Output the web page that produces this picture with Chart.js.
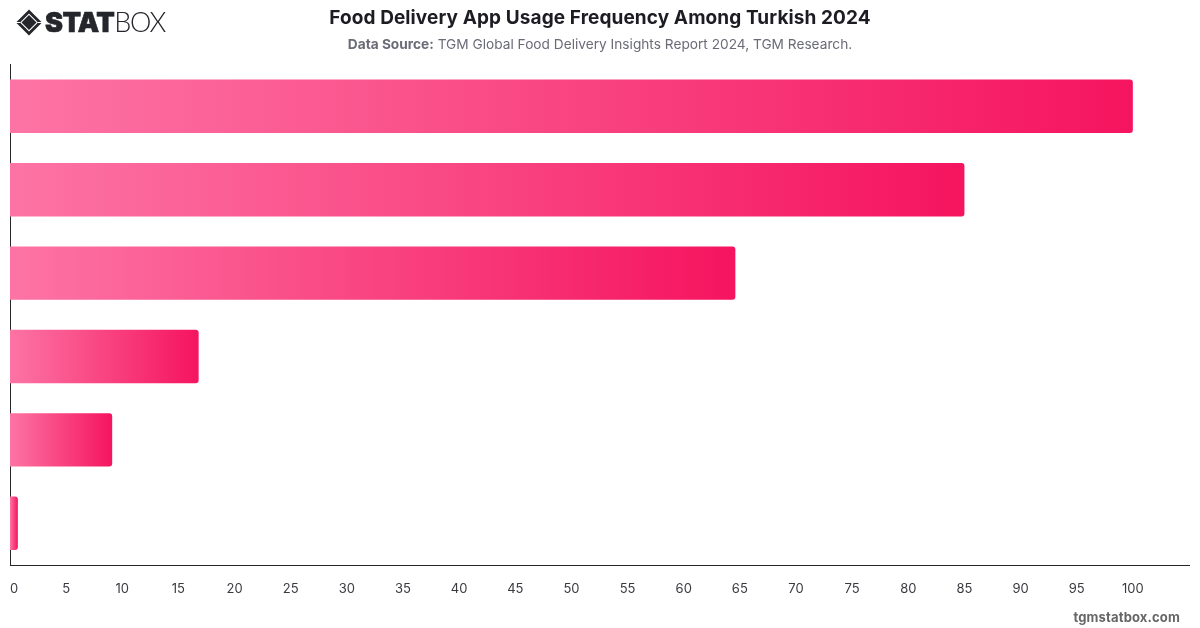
<!DOCTYPE html>
<html>
<head>
<meta charset="utf-8">
<title>Food Delivery App Usage Frequency Among Turkish 2024</title>
<script src="https://cdn.jsdelivr.net/npm/chart.js@4"></script>
<style>
    html, body { margin: 0; padding: 0; background: #fff; }
    #wrap { position: relative; width: 1200px; height: 628px; overflow: hidden; font-family: Inter, sans-serif; }
    #usageChart { position: absolute; left: 0; top: 0; }
    #title { position: absolute; left: 0; width: 1200px; top: 5px; text-align: center; font-size: 19px; line-height: 25px; font-weight: 700; letter-spacing: 0.1px; color: #1c1c22; }
    #source { position: absolute; left: 0; width: 1200px; top: 35px; text-align: center; font-size: 13.7px; line-height: 18px; color: #6b6b78; }
    #source b { font-weight: 700; }
    #logo { position: absolute; left: 15px; top: 8px; }
    #brand { position: absolute; left: 45px; top: 4px; font-size: 27px; line-height: 36px; color: #24262b; white-space: nowrap; }
    #brand b { font-weight: 900; letter-spacing: -0.6px; -webkit-text-stroke: 0.6px #24262b; }
    #brand span { font-family: Lato, sans-serif; font-weight: 300; font-size: 27px; letter-spacing: -1.2px; }
    #site { position: absolute; right: 20px; top: 609px; font-size: 13px; line-height: 16px; font-weight: 700; color: #666; letter-spacing: 0.15px; }
</style>
</head>
<body>
<div id="wrap">
    <canvas id="usageChart" width="1200" height="628"></canvas>
    <svg id="logo" width="28" height="30" viewBox="0 0 28 30">
        <path d="M14 1.5 L27 14.5 L14 27.5 L1 14.5 Z M14 5.5 L5 14.5 L14 23.5 L23 14.5 Z" fill="#24262b" fill-rule="evenodd"/>
        <path d="M14 7 L21.5 14.5 L14 22 L6.5 14.5 Z" fill="#24262b"/>
        <path d="M1 14.5 H5 M23 14.5 H27" stroke="#fff" stroke-width="1"/>
    </svg>
    <div id="brand"><b>STAT</b><span>BOX</span></div>
    <div id="title">Food Delivery App Usage Frequency Among Turkish 2024</div>
    <div id="source"><b>Data Source:</b> TGM Global Food Delivery Insights Report 2024, TGM Research.</div>
    <div id="site">tgmstatbox.com</div>
</div>
<script>
// 頻度カテゴリ（軸ラベルは非表示）
const categories = ['Group 1', 'Group 2', 'Group 3', 'Group 4', 'Group 5', 'Group 6'];
const usageValues = [100, 85, 64.6, 16.8, 9.1, 0.7];
const tickStep = 5;
const axisMax = 105;

const barStartColor = '#fd74a4';
const barEndColor = '#f5145f';
const axisColor = '#26262b';

// バーごとに左端から右端へのグラデーションを作る
function barGradient(context) {
    const { chart, raw } = context;
    const xScale = chart.scales.x;
    if (!xScale || raw === undefined) return barEndColor;
    const startX = xScale.getPixelForValue(0);
    const endX = xScale.getPixelForValue(raw);
    // レイアウト前はピクセル位置が確定していない
    if (!Number.isFinite(startX) || !Number.isFinite(endX)) return barEndColor;
    const gradient = chart.ctx.createLinearGradient(startX, 0, endX, 0);
    gradient.addColorStop(0, barStartColor);
    gradient.addColorStop(1, barEndColor);
    return gradient;
}

new Chart(document.getElementById('usageChart').getContext('2d'), {
    type: 'bar',
    data: {
        labels: categories,
        datasets: [{
            data: usageValues,
            backgroundColor: barGradient,
            borderWidth: 0,
            borderRadius: 3,
            barPercentage: 0.8,
        }]
    },
    options: {
        indexAxis: 'y',
        responsive: false,
        animation: false,
        layout: { padding: { left: 10, right: 11, top: 64.6, bottom: 0 } },
        plugins: {
            legend: { display: false },
            tooltip: { enabled: false },
        },
        scales: {
            x: {
                min: 0,
                max: axisMax,
                // ラベルのはみ出し分で描画領域が縮まないようにする
                afterFit: (axis) => {
                    axis.height = 63;
                    axis.paddingLeft = 0;
                    axis.paddingRight = 0;
                },
                grid: { display: false },
                border: { display: true, color: axisColor, width: 1 },
                ticks: {
                    stepSize: tickStep,
                    align: 'inner',
                    maxRotation: 0,
                    autoSkip: false,
                    padding: 8,
                    color: '#3a3a40',
                    font: { family: 'Inter', size: 13 },
                    // 最後の目盛りは表示しない
                    callback: (value) => (value < axisMax ? value : ''),
                },
            },
            y: {
                afterFit: (axis) => { axis.width = 0; },
                grid: { display: false },
                border: { display: true, color: axisColor, width: 1 },
                ticks: { display: false },
            },
        },
    },
});
</script>
</body>
</html>
